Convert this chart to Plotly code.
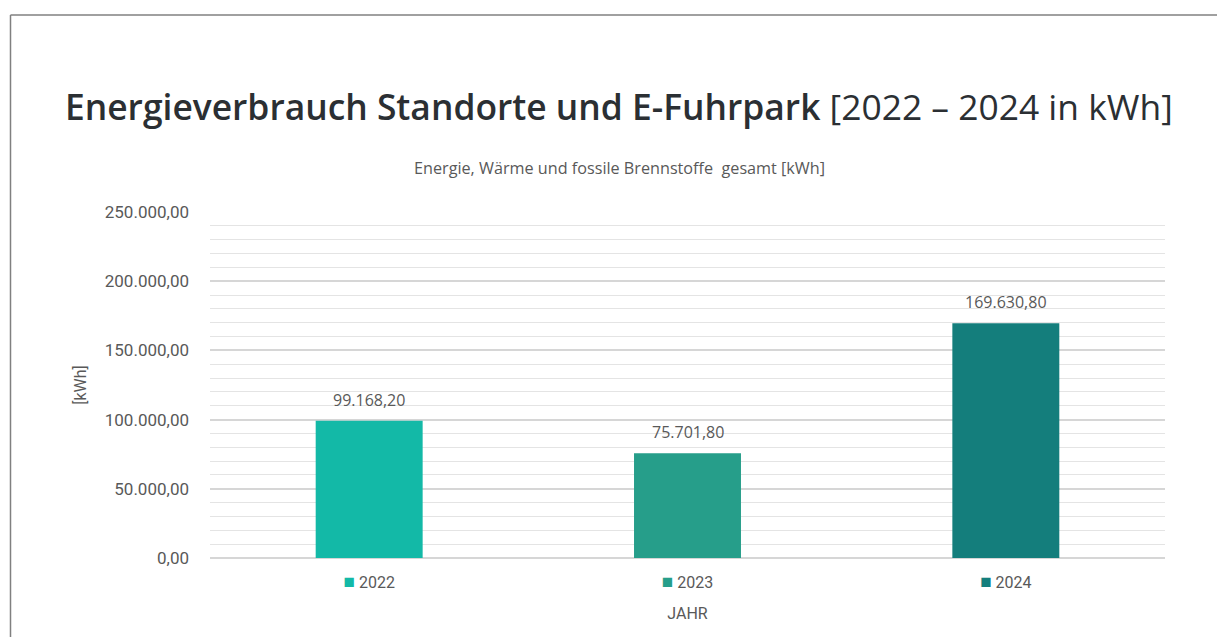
import plotly.graph_objects as go

categories = ["2022", "2023", "2024"]
values = [99168.20, 75701.80, 169630.80]
colors = ["#13b9a7", "#269e8a", "#147e7c"]
y_tick_vals = [0, 50000, 100000, 150000, 200000, 250000]

W, H = 1217, 637
L, R, T, B = 210, 52, 212, 79
pw, ph = W - L - R, H - T - B

def px_x(x):
    return (x - L) / pw

def px_y(y):
    return (H - B - y) / ph

TXT = "#595959"
ticktext = [f'<span style="color:{c};font-size:19px">■</span> {cat}' for c, cat in zip(colors, categories)]

def fmt(v):
    s = f"{v:,.2f}"
    return s.replace(",", "X").replace(".", ",").replace("X", ".")

fig = go.Figure()
fig.add_trace(go.Bar(
    x=categories, y=values, marker=dict(color=colors, line=dict(width=0)),
    showlegend=False, hoverinfo="x+y",
))

# category axis: annotation x given as the category's serial index
annotations = [
    dict(x=i, y=v, xref="x", yref="y", text=fmt(v), showarrow=False,
         yanchor="bottom", yshift=8, font=dict(size=16, color=TXT, family="Open Sans"))
    for i, v in enumerate(values)
]
annotations += [
    dict(text='<span style="font-weight:600">Energieverbrauch Standorte und E-Fuhrpark</span> [2022 – 2024 in kWh]',
         xref="paper", yref="paper", x=px_x(619), y=px_y(106),
         xanchor="center", yanchor="middle", showarrow=False,
         font=dict(size=35.4, color="#2b2f33", family="Open Sans")),
    dict(text="Energie, Wärme und fossile Brennstoffe  gesamt [kWh]",
         xref="paper", yref="paper", x=px_x(619), y=px_y(168),
         xanchor="center", yanchor="middle", showarrow=False,
         font=dict(size=16.2, color=TXT, family="Open Sans")),
]

fig.update_layout(
    width=W, height=H,
    margin=dict(l=L, r=R, t=T, b=B, autoexpand=False),
    paper_bgcolor="white", plot_bgcolor="white",
    separators=",.",
    bargap=0.664,
    font=dict(family="Roboto", color=TXT, size=16),
    xaxis=dict(
        type="category", range=[-0.5, len(categories) - 0.5],
        tickvals=categories, ticktext=ticktext, tickangle=0,
        tickfont=dict(size=16, color=TXT, family="Roboto"),
        showgrid=False, zeroline=False, showline=False, ticks="",
        ticklabelstandoff=13, automargin=False,
        title=dict(text="JAHR", font=dict(size=16, color=TXT, family="Roboto"), standoff=15),
    ),
    yaxis=dict(
        range=[0, 250000],
        tickvals=y_tick_vals, tickformat=",.2f",
        tickfont=dict(size=17, color=TXT, family="Roboto"),
        showgrid=True, gridcolor="#d6d6d6", gridwidth=1.5,
        minor=dict(dtick=10000, showgrid=True, gridcolor="#e4e4e4", gridwidth=1),
        zeroline=True, zerolinecolor="#d6d6d6", zerolinewidth=1.5,
        showline=False, ticks="",
        ticklabelstandoff=20, automargin=False,
        title=dict(text="[kWh]", font=dict(size=16, color=TXT, family="Roboto"), standoff=14),
    ),
    annotations=annotations,
    shapes=[
        dict(type="line", xref="paper", yref="paper", x0=px_x(10.5), x1=px_x(W + 5),
             y0=px_y(15), y1=px_y(15), line=dict(color="#808080", width=1.5)),
        dict(type="line", xref="paper", yref="paper", x0=px_x(10.5), x1=px_x(10.5),
             y0=px_y(15), y1=px_y(H + 5), line=dict(color="#808080", width=1.5)),
    ],
)

fig.write_html("out.html", config={"displayModeBar": False},
               post_script="document.body.style.margin='0';document.body.style.overflow='hidden';")
